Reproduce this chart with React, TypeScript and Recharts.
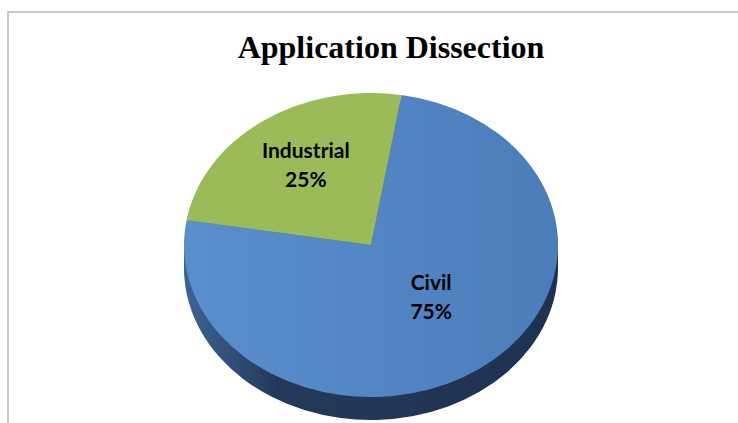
import React from "react";
import { PieChart, Pie, Cell } from "recharts";

// slice data
const categories = ["Industrial", "Civil"];
const shares = [25, 75];

const data = categories.map((name, i) => ({ name, value: shares[i] }));

// 3D look: squash the pie vertically and stack darker copies underneath
const SY = 152 / 187;
const CX = 371;
const CY = 245 / SY;
const R = 187;
const DEPTH = 23 / SY;
const depthSteps = [DEPTH, DEPTH * 0.75, DEPTH * 0.5, DEPTH * 0.25];

const topFill = ["#9bbb59", "url(#topBlue)"];
const RAD = Math.PI / 180;

// label placement tweaks per slice (radius fraction, angle nudge)
const labelAdjust = [
  { r: 0.63, da: -2 },
  { r: 0.47, da: 7.6 },
];

const renderLabel = (props: any) => {
  const { cx, cy, midAngle, outerRadius, index, name, percent } = props;
  const adj = labelAdjust[index] || { r: 0.5, da: 0 };
  const a = (midAngle + adj.da) * RAD;
  const r = outerRadius * adj.r;
  const x = cx + r * Math.cos(a);
  const y = cy - r * Math.sin(a);
  return (
    <g transform={`translate(${x},${y}) scale(1,${1 / SY})`}>
      <text
        textAnchor="middle"
        fontFamily="Lato, 'Open Sans', sans-serif"
        fontWeight="bold"
        fontSize={21}
        fill="#000"
      >
        <tspan x={0} y={-7.5}>{name}</tspan>
        <tspan x={0} y={21.5}>{`${Math.round(percent * 100)}%`}</tspan>
      </text>
    </g>
  );
};

export default function App() {
  return (
    <div
      style={{
        position: "absolute",
        left: 0,
        top: 0,
        width: 738,
        height: 423,
        background: "#fff",
        overflow: "hidden",
      }}
    >
      <svg width={0} height={0} style={{ position: "absolute" }}>
        <defs>
          <linearGradient id="topBlue" x1="0" y1="0" x2="1" y2="0">
            <stop offset="0%" stopColor="#5b8ecd" />
            <stop offset="100%" stopColor="#4b7dbb" />
          </linearGradient>
          <linearGradient id="sideBlue" x1="0" y1="0" x2="1" y2="0">
            <stop offset="0%" stopColor="#3e6496" />
            <stop offset="25%" stopColor="#24395a" />
            <stop offset="100%" stopColor="#1f3150" />
          </linearGradient>
        </defs>
      </svg>

      {/* frame */}
      <div
        style={{
          position: "absolute",
          left: 7,
          top: 11,
          width: 760,
          height: 440,
          borderTop: "2px solid #c8c8c8",
          borderLeft: "2px solid #c8c8c8",
        }}
      />

      <div
        style={{
          position: "absolute",
          left: 0,
          top: 0,
          width: 738,
          height: 423 / SY,
          transform: `scaleY(${SY})`,
          transformOrigin: "0 0",
        }}
      >
        <PieChart
          width={738}
          height={Math.ceil(423 / SY)}
          margin={{ top: 0, right: 0, bottom: 0, left: 0 }}
        >
          {depthSteps.map((d) => (
            <Pie
              key={`side-${d}`}
              data={data}
              dataKey="value"
              nameKey="name"
              cx={CX}
              cy={CY + d}
              outerRadius={R}
              startAngle={80.6}
              endAngle={440.6}
              stroke="none"
              isAnimationActive={false}
            >
              {data.map((_, i) => (
                <Cell key={`s-${i}`} fill={i === 0 ? "#6f8a3c" : "url(#sideBlue)"} />
              ))}
            </Pie>
          ))}
          <Pie
            data={data}
            dataKey="value"
            nameKey="name"
            cx={CX}
            cy={CY}
            outerRadius={R}
            startAngle={80.6}
            endAngle={440.6}
            stroke="none"
            label={renderLabel}
            labelLine={false}
            isAnimationActive={false}
          >
            {data.map((_, i) => (
              <Cell key={`t-${i}`} fill={topFill[i]} />
            ))}
          </Pie>
        </PieChart>
      </div>

      <svg width={738} height={423} style={{ position: "absolute", left: 0, top: 0, pointerEvents: "none" }}>
        <text
          x={391}
          y={58}
          textAnchor="middle"
          fontFamily="'Liberation Serif', 'Times New Roman', serif"
          fontWeight="bold"
          fontSize={32}
          fill="#000"
        >
          Application Dissection
        </text>
      </svg>
    </div>
  );
}
